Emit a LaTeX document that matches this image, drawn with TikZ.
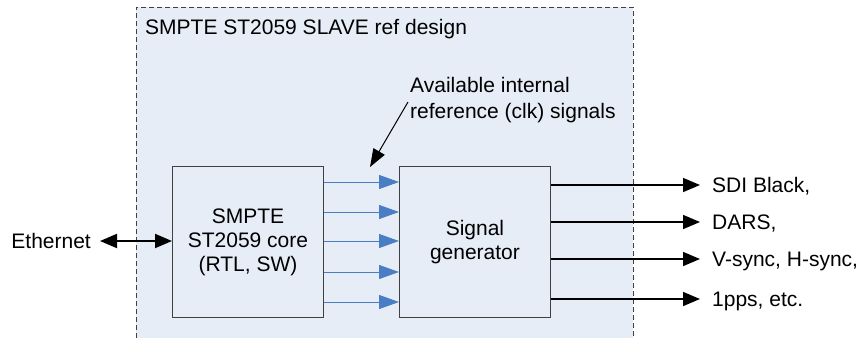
\documentclass[tikz,border=0pt]{standalone}
\usepackage{fontspec}
\setmainfont{Liberation Sans}
\usetikzlibrary{arrows.meta}
\definecolor{bg}{RGB}{230,237,247}
\definecolor{blu}{RGB}{74,126,196}
\definecolor{edge}{RGB}{64,64,64}
\begin{document}
\begin{tikzpicture}[x=1pt,y=-1pt,
  txt/.style={font=\fontsize{21}{24}\selectfont, inner sep=0pt},
  blockbox/.style={txt, draw=edge, fill=bg, line width=0.9pt, minimum width=151pt,
    minimum height=151pt, align=center, anchor=north west},
  outlbl/.style={txt, anchor=west, text height=15pt, text depth=0pt},
  bluarrow/.style={draw=blu, line width=1pt, -{Triangle[length=20pt,width=14pt]}},
  blkarrow/.style={draw=black, line width=1.5pt, -{Triangle[length=17pt,width=14pt]}}]
\useasboundingbox (0,0) rectangle (861,338);
% outer dashed region
\fill[bg] (136,7) rectangle (633,338);
\draw[edge, line width=0.8pt, dash pattern=on 5pt off 3pt] (136,338) -- (136,7) -- (633,7) -- (633,338);
\node[outlbl] (title) at (145,27) {SMPTE ST2059 SLAVE ref design};

% blocks
\node[blockbox] (core) at (172,166) {SMPTE\\ST2059 core\\(RTL, SW)};
\node[blockbox] (gen) at (399,166) {Signal\\generator};

% ethernet
\node[outlbl, anchor=east] (eth) at (91,241) {Ethernet};
\draw[blkarrow, line width=2pt, {Triangle[length=17pt,width=14pt]}-{Triangle[length=17pt,width=14pt]}]
  ([xshift=9pt]eth.east) -- (core.west |- eth.center);

% blue internal signals
\foreach \yy in {182,212,241,272,302}
  \draw[bluarrow] (core.east |- 0,\yy) -- (gen.west |- 0,\yy);

% annotation
\node[txt, anchor=west, align=left, font=\fontsize{21}{26}\selectfont] (ann) at (410,100)
  {Available internal\\reference (clk) signals};
\coordinate (annTip) at (370,167);
\draw[black, line width=1pt, -{Triangle[length=18pt,width=13pt]}] (408,102) -- (annTip);

% outputs
\node[outlbl] (o1) at (712,185) {SDI Black,};
\node[outlbl] (o2) at (712,222) {DARS,};
\node[outlbl] (o3) at (712,259) {V-sync, H-sync,};
\node[outlbl] (o4) at (712,299) {1pps, etc.};
\foreach \o in {o1,o2,o3,o4}
  \draw[blkarrow] (gen.east |- \o.west) -- ([xshift=-12pt]\o.west);
\end{tikzpicture}
\end{document}
